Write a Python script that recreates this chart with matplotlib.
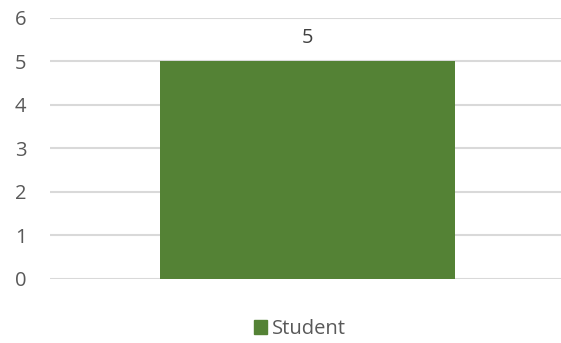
import matplotlib
matplotlib.use("Agg")
import matplotlib.pyplot as plt
from matplotlib.patches import Patch

categories = [""]
series_name = "Student"
values = [5]
y_ticks = [0, 1, 2, 3, 4, 5, 6]

plt.rcParams['font.family'] = ['Open Sans', 'DejaVu Sans']
text_color = "#595959"
bar_color = "#548235"
fs = 14.5

fig = plt.figure(figsize=(5.61, 3.43), dpi=100)
ax = fig.add_axes([50 / 561, 1 - 279 / 343, 515 / 561, 261.5 / 343])

bars = ax.bar(range(len(categories)), values, width=0.573, color=bar_color, zorder=3)
for b, v in zip(bars, values):
    ax.text(b.get_x() + b.get_width() / 2, v + 0.3, f"{v}", ha="center", va="bottom",
            fontsize=fs, color="#404040")

ax.set_xlim(-0.5, 0.5)
ax.set_ylim(0, 6)
ax.set_yticks(y_ticks)
ax.set_yticklabels([str(t) for t in y_ticks], fontsize=fs, color=text_color)
ax.set_xticks([])
ax.tick_params(axis="y", length=0, pad=17)
ax.grid(axis="y", color="#d9d9d9", linewidth=1.5, zorder=0)
for s in ax.spines.values():
    s.set_visible(False)

fig.legend(handles=[Patch(color=bar_color, label=series_name)], loc="center",
           bbox_to_anchor=(300 / 561, 1 - 329 / 343), frameon=False, fontsize=fs,
           labelcolor=text_color, handlelength=0.65, handleheight=0.65, handletextpad=0.25)

fig.savefig("out.png", dpi=100)
